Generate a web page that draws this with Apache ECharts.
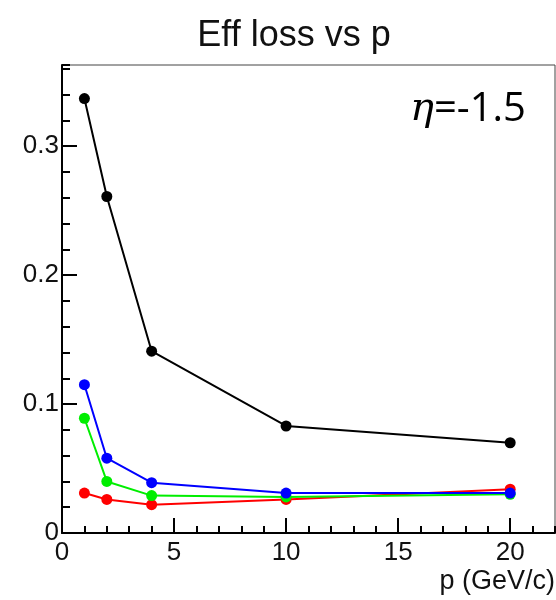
<!DOCTYPE html>
<html>
<head>
<meta charset="utf-8">
<script src="https://cdn.jsdelivr.net/npm/echarts@6/dist/echarts.min.js"></script>
<style>html,body{margin:0;padding:0;background:#fff}#c{width:556px;height:600px}</style>
</head>
<body>
<div id="c"></div>
<script>
const momenta = [1, 2, 4, 10, 20];
const blackVals = [0.337, 0.261, 0.141, 0.083, 0.070];
const redVals   = [0.031, 0.026, 0.022, 0.026, 0.034];
const greenVals = [0.089, 0.040, 0.029, 0.028, 0.030];
const blueVals  = [0.115, 0.058, 0.039, 0.031, 0.031];
const titleText = 'Eff loss vs p';
const xName = 'p (GeV/c)';
const etaLabel = '=-1.5';

const chart = echarts.init(document.getElementById('c'), null, {renderer: 'canvas'});
const font = '"Liberation Sans", Arial, sans-serif';
function mk(name, vals, color) {
  return {
    name: name, type: 'line', xAxisIndex: 0, yAxisIndex: 0,
    data: momenta.map((p, i) => [p, vals[i]]),
    symbol: 'circle', symbolSize: 11,
    lineStyle: {color: color, width: 2},
    itemStyle: {color: color},
    animation: false
  };
}
chart.setOption({
  animation: false,
  title: {
    text: titleText, left: 289, top: 13, textAlign: 'center',
    textStyle: {fontFamily: font, fontSize: 36, fontWeight: 'normal', color: '#111'}
  },
  grid: {left: 62, right: 1, top: 65, bottom: 67, show: true, borderColor: '#444', borderWidth: 1},
  xAxis: [
    {type: 'value', min: 0, max: 22, interval: 5,
     axisLine: {show: true, onZero: false, lineStyle: {color: '#000', width: 2}},
     axisTick: {show: true, inside: true, length: 15, lineStyle: {color: '#000', width: 2}},
     axisLabel: {showMaxLabel: false, margin: 7, fontFamily: font, fontSize: 26, color: '#111'},
     splitLine: {show: false}},
    {type: 'value', min: 0, max: 22, interval: 1, position: 'bottom',
     axisLine: {show: false},
     axisTick: {show: true, inside: true, length: 7, lineStyle: {color: '#000', width: 2}},
     axisLabel: {show: false}, splitLine: {show: false}}
  ],
  yAxis: [
    {type: 'value', min: 0, max: 0.363, interval: 0.1,
     axisLine: {show: true, onZero: false, lineStyle: {color: '#000', width: 2}},
     axisTick: {show: true, inside: true, length: 15, lineStyle: {color: '#000', width: 2}},
     axisLabel: {showMaxLabel: false, margin: 3, fontFamily: font, fontSize: 26, color: '#111',
                 formatter: v => (v === 0 ? '0' : String(+v.toFixed(2)))},
     splitLine: {show: false}},
    {type: 'value', min: 0, max: 0.363, interval: 0.02, position: 'left',
     axisLine: {show: false},
     axisTick: {show: true, inside: true, length: 8, lineStyle: {color: '#000', width: 2}},
     axisLabel: {show: false}, splitLine: {show: false}}
  ],
  graphic: [
    {type: 'text', right: 1, top: 568,
     style: {text: xName, font: '27px ' + font, fill: '#111'}},
    {type: 'text', left: 410, top: 90,
     style: {rich: {e: {fontFamily: '"DejaVu Serif", serif', fontStyle: 'italic', fontSize: 40, fill: '#000'},
                    n: {fontFamily: '"Open Sans", sans-serif', fontSize: 40, fill: '#000'}},
             text: '{e|η}{n|' + etaLabel + '}'}}
  ],
  series: [
    mk('black', blackVals, '#000000'),
    mk('red', redVals, '#ff0000'),
    mk('green', greenVals, '#00ee00'),
    mk('blue', blueVals, '#0000ff')
  ]
});
</script>
</body>
</html>
